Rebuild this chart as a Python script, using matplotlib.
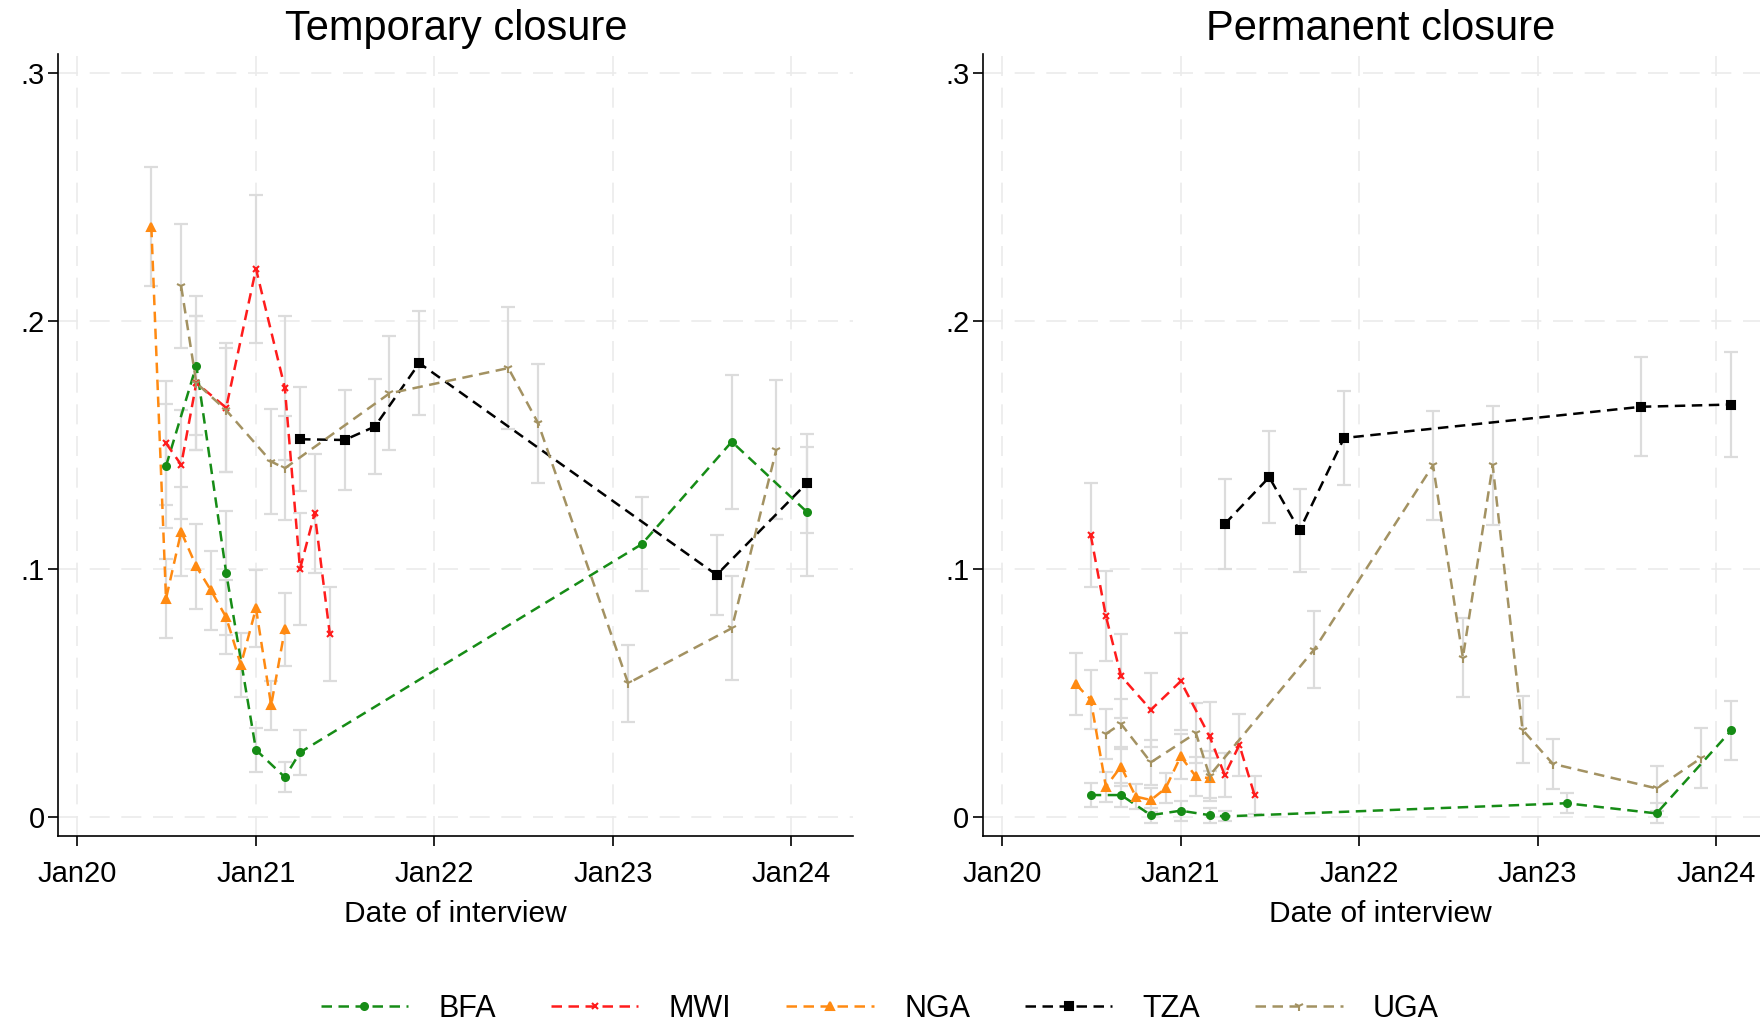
import numpy as np
import pandas as pd
import matplotlib
matplotlib.use("Agg")
import matplotlib.pyplot as plt
import matplotlib.dates as mdates

plt.rcParams['font.family'] = ['Liberation Sans', 'DejaVu Sans']

countries = ["BFA", "MWI", "NGA", "TZA", "UGA"]

# Survey rounds (month of interview)
bfa_dates = ["2020-07", "2020-09", "2020-11", "2021-01", "2021-03", "2021-04",
             "2023-03", "2023-09", "2024-02"]
mwi_dates = ["2020-07", "2020-08", "2020-09", "2020-11", "2021-01", "2021-03",
             "2021-04", "2021-05", "2021-06"]
nga_dates = ["2020-06", "2020-07", "2020-08", "2020-09", "2020-10", "2020-11",
             "2020-12", "2021-01", "2021-02", "2021-03"]
tza_dates = ["2021-04", "2021-07", "2021-09", "2021-12", "2023-08", "2024-02"]
uga_dates_temp = ["2020-08", "2020-09", "2020-11", "2021-02", "2021-03", "2021-10",
                  "2022-06", "2022-08", "2023-02", "2023-09", "2023-12"]
uga_dates_perm = ["2020-08", "2020-09", "2020-11", "2021-02", "2021-03", "2021-10",
                  "2022-06", "2022-08", "2022-10", "2022-12", "2023-02", "2023-09",
                  "2023-12"]

# Share of businesses temporarily closed, with 95% CI half-widths
bfa_temp = [0.1415, 0.182, 0.0985, 0.027, 0.016, 0.026, 0.110, 0.1513, 0.1231]
bfa_temp_ci = [0.025, 0.028, 0.025, 0.009, 0.006, 0.009, 0.019, 0.027, 0.026]
mwi_temp = [0.1507, 0.142, 0.175, 0.165, 0.221, 0.173, 0.100, 0.1225, 0.0737]
mwi_temp_ci = [0.025, 0.022, 0.027, 0.026, 0.030, 0.029, 0.0225, 0.024, 0.019]
nga_temp = [0.238, 0.088, 0.115, 0.101, 0.0913, 0.0805, 0.0613, 0.0841, 0.045, 0.0756]
nga_temp_ci = [0.024, 0.016, 0.018, 0.017, 0.016, 0.015, 0.013, 0.0155, 0.010, 0.0147]
tza_temp = [0.1523, 0.152, 0.1574, 0.183, 0.0976, 0.1345]
tza_temp_ci = [0.021, 0.020, 0.019, 0.021, 0.016, 0.020]
uga_temp = [0.214, 0.175, 0.164, 0.1433, 0.1406, 0.1708, 0.181, 0.1588, 0.0539,
            0.0761, 0.148]
uga_temp_ci = [0.025, 0.027, 0.025, 0.021, 0.021, 0.023, 0.0245, 0.024, 0.0155,
               0.021, 0.028]

# Share of businesses permanently closed
bfa_perm = [0.0088, 0.0088, 0.0007, 0.0025, 0.0007, 0.0002, 0.0055, 0.0014, 0.0349]
bfa_perm_ci = [0.005, 0.005, 0.003, 0.004, 0.003, 0.002, 0.004, 0.004, 0.012]
mwi_perm = [0.1137, 0.081, 0.0568, 0.0432, 0.0547, 0.0325, 0.0169, 0.029, 0.0088]
mwi_perm_ci = [0.021, 0.018, 0.017, 0.015, 0.0195, 0.014, 0.009, 0.0125, 0.0078]
nga_perm = [0.0534, 0.0473, 0.0122, 0.0203, 0.0082, 0.0068, 0.0115, 0.0244,
            0.0163, 0.0156]
nga_perm_ci = [0.0125, 0.012, 0.006, 0.008, 0.005, 0.005, 0.006, 0.009, 0.008, 0.008]
tza_perm = [0.1181, 0.137, 0.1155, 0.1528, 0.1654, 0.1663]
tza_perm_ci = [0.018, 0.0186, 0.0167, 0.019, 0.020, 0.021]
uga_perm = [0.0335, 0.0375, 0.022, 0.0338, 0.0166, 0.0675, 0.1418, 0.0642, 0.1418,
            0.0351, 0.0214, 0.0115, 0.0237]
uga_perm_ci = [0.010, 0.010, 0.009, 0.012, 0.010, 0.0155, 0.022, 0.016, 0.024,
               0.0135, 0.010, 0.009, 0.012]

colors = {"BFA": "#168c16", "MWI": "#ff1c1c", "NGA": "#ff8a12",
          "TZA": "#000000", "UGA": "#a39262"}
markers = {"BFA": "o", "MWI": "x", "NGA": "^", "TZA": "s", "UGA": "1"}
msizes = {"BFA": 5, "MWI": 4, "NGA": 6, "TZA": 5.5, "UGA": 7}

temporary = {
    "BFA": (bfa_dates, bfa_temp, bfa_temp_ci),
    "MWI": (mwi_dates, mwi_temp, mwi_temp_ci),
    "NGA": (nga_dates, nga_temp, nga_temp_ci),
    "TZA": (tza_dates, tza_temp, tza_temp_ci),
    "UGA": (uga_dates_temp, uga_temp, uga_temp_ci),
}
permanent = {
    "BFA": (bfa_dates, bfa_perm, bfa_perm_ci),
    "MWI": (mwi_dates, mwi_perm, mwi_perm_ci),
    "NGA": (nga_dates, nga_perm, nga_perm_ci),
    "TZA": (tza_dates, tza_perm, tza_perm_ci),
    "UGA": (uga_dates_perm, uga_perm, uga_perm_ci),
}

year_ticks = pd.to_datetime(["2020-01-01", "2021-01-01", "2022-01-01",
                             "2023-01-01", "2024-01-01"])
y_ticks = [0, 0.1, 0.2, 0.3]
y_labels = ["0", ".1", ".2", ".3"]

fig = plt.figure(figsize=(17.6, 10.27), dpi=100)
ax1 = fig.add_axes([0.0332, 0.186, 0.4515, 0.7615])
ax2 = fig.add_axes([0.5586, 0.186, 0.4515, 0.7615])


def draw_panel(ax, panel, title):
    handles = []
    for c in countries:
        dates, vals, ci = panel[c]
        x = pd.to_datetime(dates)
        ax.errorbar(x, vals, yerr=ci, fmt="none", ecolor="#dcdcdc",
                    elinewidth=1.6, capsize=5, capthick=1.6, zorder=2)
        ln, = ax.plot(x, vals, ls=(0, (4.2, 2.6)), lw=1.8, color=colors[c],
                      marker=markers[c], ms=msizes[c], mew=1.5, zorder=3)
        handles.append(ln)

    ax.set_title(title, fontsize=30, pad=10)
    ax.set_xlim(pd.Timestamp("2019-11-24"), pd.Timestamp("2024-05-06"))
    ax.set_ylim(-0.0077, 0.3077)
    ax.set_xticks(year_ticks)
    ax.xaxis.set_major_formatter(mdates.DateFormatter("%b%y"))
    ax.set_yticks(y_ticks)
    ax.set_yticklabels(y_labels)
    ax.set_xlabel("Date of interview", fontsize=21.5, labelpad=9)
    ax.tick_params(labelsize=21, length=7, width=1.2, pad=3)
    ax.tick_params(axis="x", pad=10)
    ax.grid(True, color="#ebebeb", lw=1.2, ls=(0, (12, 7)), zorder=0)
    ax.set_axisbelow(True)
    for s in ["top", "right"]:
        ax.spines[s].set_visible(False)
    for s in ["left", "bottom"]:
        ax.spines[s].set_linewidth(1.2)
    return handles


handles = draw_panel(ax1, temporary, "Temporary closure")
draw_panel(ax2, permanent, "Permanent closure")

fig.legend(handles, countries, loc="center", bbox_to_anchor=(0.5, 0.018),
           ncol=5, frameon=False, fontsize=22, handlelength=2.85,
           handletextpad=1.0, columnspacing=1.8, borderpad=0.1)

fig.savefig("out.png", dpi=100)
